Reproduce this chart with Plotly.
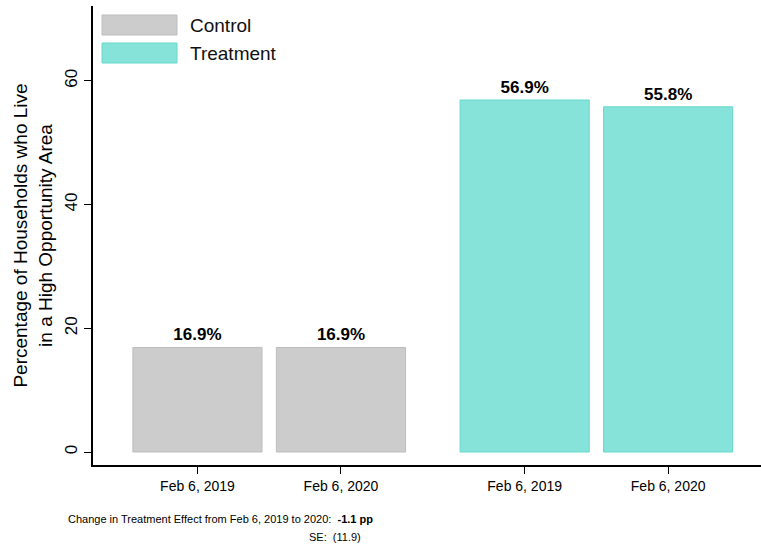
import plotly.graph_objects as go

groups = ["Control", "Control", "Treatment", "Treatment"]
tick_labels = ["Feb 6, 2019", "Feb 6, 2020", "Feb 6, 2019", "Feb 6, 2020"]
control_values = [16.9, 16.9]
treatment_values = [56.9, 55.8]
y_ticks = [0, 20, 40, 60]
note_line1 = "Change in Treatment Effect from Feb 6, 2019 to 2020:  <b>-1.1 pp</b>"
note_line2 = "SE:  (11.9)"

# layout positions (slot centers)
xpos = [0, 1, 2.28, 3.28]
W, H = 761, 548
ml, mr, mt, mb = 93, 0, 6, 83
pw = W - ml - mr
ph = H - mt - mb

def px_x(p):
    return (p - ml) / pw

def px_y(p):
    return (H - mb - p) / ph

REG = "Liberation Sans, Arial, sans-serif"

ctrl_fill, ctrl_line = "#cccccc", "#bdbdbd"
trt_fill, trt_line = "#86e3d9", "#66d8ca"

fig = go.Figure()
fig.add_trace(go.Bar(
    x=xpos[:2], y=control_values, width=0.9, name="Control",
    marker=dict(color=ctrl_fill, line=dict(color=ctrl_line, width=1)),
    text=[f"<b>{v:.1f}%</b>" for v in control_values], textposition="outside",
    textfont=dict(family=REG, size=17, color="black"), cliponaxis=False,
    showlegend=False,
))
fig.add_trace(go.Bar(
    x=xpos[2:], y=treatment_values, width=0.9, name="Treatment",
    marker=dict(color=trt_fill, line=dict(color=trt_line, width=1)),
    text=[f"<b>{v:.1f}%</b>" for v in treatment_values], textposition="outside",
    textfont=dict(family=REG, size=17, color="black"), cliponaxis=False,
    showlegend=False,
))

# legend drawn manually (wide swatches)
shapes = []
annotations = []
for i, (name, f, l) in enumerate([("Control", ctrl_fill, ctrl_line), ("Treatment", trt_fill, trt_line)]):
    top = 15 + i * 28
    shapes.append(dict(type="rect", xref="paper", yref="paper",
                       x0=px_x(102), x1=px_x(177), y0=px_y(top + 20), y1=px_y(top),
                       fillcolor=f, line=dict(color=l, width=1)))
    annotations.append(dict(text=name, xref="paper", yref="paper", x=px_x(188), y=px_y(top + 10),
                            xanchor="left", yanchor="middle", showarrow=False,
                            font=dict(family=REG, size=19, color="#111")))

annotations.append(dict(text=note_line1, xref="paper", yref="paper", x=px_x(66), y=px_y(519),
                        xanchor="left", yanchor="middle", showarrow=False,
                        font=dict(family=REG, size=11, color="black")))
annotations.append(dict(text=note_line2, xref="paper", yref="paper", x=px_x(363), y=px_y(537),
                        xanchor="right", yanchor="middle", showarrow=False,
                        font=dict(family=REG, size=11, color="black")))

fig.update_layout(
    width=W, height=H,
    margin=dict(l=ml, r=mr, t=mt, b=mb, autoexpand=False),
    plot_bgcolor="white", paper_bgcolor="white",
    barmode="overlay",
    shapes=shapes, annotations=annotations,
    xaxis=dict(range=[-0.728, 3.927], tickvals=xpos, ticktext=tick_labels, automargin=False,
               showline=True, linecolor="black", linewidth=1.5, mirror=False,
               ticks="outside", ticklen=7, tickcolor="black", showgrid=False, zeroline=False,
               tickfont=dict(family=REG, size=14, color="black")),
    yaxis=dict(range=[-2.1, 72.1], tickvals=y_ticks, tickangle=-90, automargin=False,
               showline=True, linecolor="black", linewidth=1.5,
               ticks="outside", ticklen=7, tickcolor="black", showgrid=False, zeroline=False,
               tickfont=dict(family=REG, size=17, color="black"),
               title=dict(text="Percentage of Households who Live<br>in a High Opportunity Area",
                          font=dict(family=REG, size=19, color="black"), standoff=5)),
)

fig.write_html("out.html", config={"displayModeBar": False},
               post_script="document.body.style.margin='0';document.body.style.overflow='hidden';")
